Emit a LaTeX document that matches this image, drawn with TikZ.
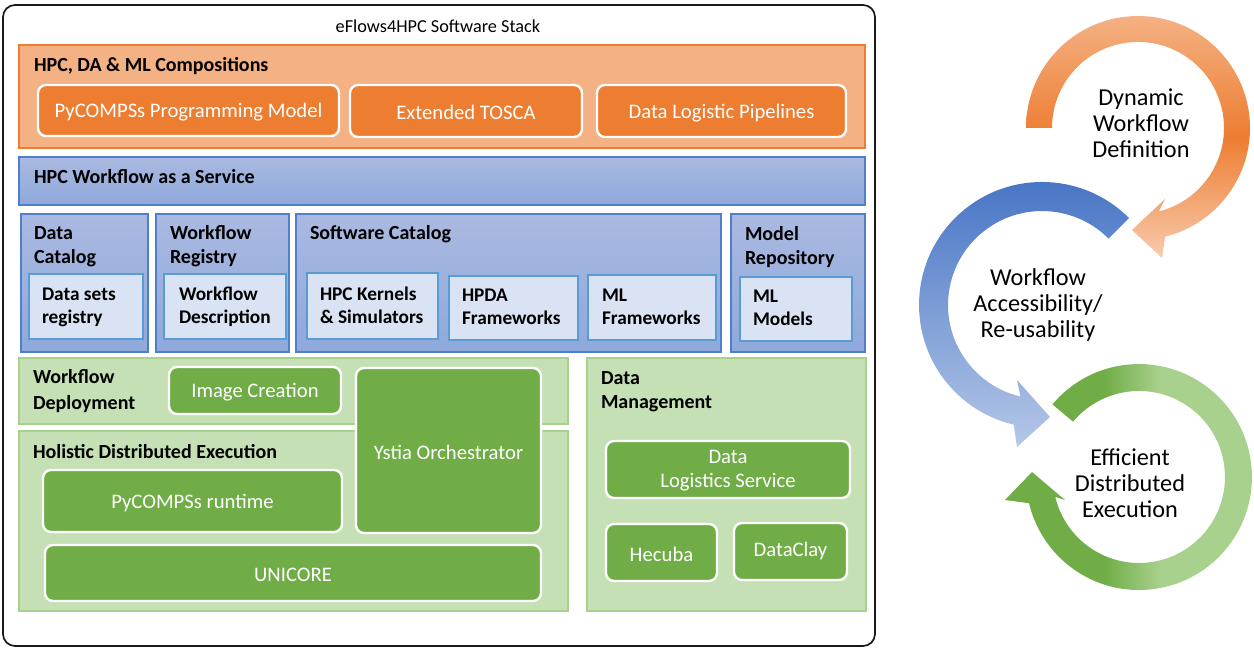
\documentclass[tikz,border=0pt]{standalone}
\usepackage{fontspec}
\setmainfont{Carlito}
\usetikzlibrary{fit}

\definecolor{orfill}{HTML}{F4B183}
\definecolor{ordark}{HTML}{ED7D31}
\definecolor{orlight}{HTML}{F8CBAD}
\definecolor{bltop}{HTML}{AAB9E1}
\definecolor{blbot}{HTML}{8EA9DB}
\definecolor{blline}{HTML}{4F7FCC}
\definecolor{lbfill}{HTML}{DAE3F3}
\definecolor{lbline}{HTML}{5B9BD5}
\definecolor{grfill}{HTML}{C5E0B4}
\definecolor{grline}{HTML}{A9D18E}
\definecolor{grdark}{HTML}{70AD47}
\definecolor{grlight}{HTML}{A9D18E}
\definecolor{bldark}{HTML}{4472C4}
\definecolor{bllight}{HTML}{B4C7E7}

\pgfdeclarehorizontalshading{greenring}{100bp}{color(0bp)=(grdark); color(44bp)=(grdark); color(55bp)=(grlight); color(100bp)=(grlight)}

\newcommand\ttlfont{\fontsize{15}{18}\selectfont\bfseries}
\newcommand\lbfont{\fontsize{14.5}{17.25}\selectfont\bfseries}
\newcommand\boxfont{\fontsize{15.5}{18}\selectfont}
\newcommand\cycfont{\fontsize{18.2}{19.5}\selectfont}

\tikzset{
  every node/.style={inner sep=0pt, outer sep=0pt},
  stackbox/.style={draw=black!90, line width=1.3pt, rounded corners=9pt},
  orpanel/.style={draw=ordark, line width=1.1pt, fill=orfill},
  orbox/.style={draw=white, line width=1.8pt, fill=ordark, rounded corners=6pt},
  blpanel/.style={draw=blline, line width=1.3pt, top color=bltop, bottom color=blbot},
  lbbox/.style={draw=lbline, line width=1.3pt, fill=lbfill},
  grpanel/.style={draw=grline, line width=1.1pt, fill=grfill},
  grbox/.style={draw=white, line width=1.8pt, fill=grdark, rounded corners=6pt},
  wtxt/.style={text=white, font=\boxfont, align=center, yshift=-1.2pt},
  ttl/.style={anchor=base west, align=left, font=\ttlfont},
  lbtxt/.style={anchor=base west, align=left, font=\lbfont},
  cyc/.style={anchor=base, align=center, font=\cycfont}
}

\begin{document}
\begin{tikzpicture}[x=0.75pt, y=-0.75pt]
  \useasboundingbox (0,0) rectangle (1254,650);

  \node[stackbox, fit={(3,5) (875,646)}] (stack) {};
  \node[anchor=base, font=\fontsize{13.7}{16}\selectfont] (stack-t) at (438,32) {eFlows4HPC Software Stack};

  \node[orpanel, fit={(19,45) (865,148)}] (comp) {};
  \node[ttl] (comp-t) at (34,71) {HPC, DA \& ML Compositions};
  \node[orbox, fit={(38,85) (339,136)}] (pcm) {};
  \node[wtxt] (pcm-t) at (pcm) {PyCOMPSs Programming Model};
  \node[orbox, fit={(350,85) (582,137)}] (tosca) {};
  \node[wtxt] (tosca-t) at (tosca) {Extended TOSCA};
  \node[orbox, fit={(597,85) (846,137)}] (dlp) {};
  \node[wtxt] (dlp-t) at (dlp) {Data Logistic Pipelines};

  \node[blpanel, fit={(19,157) (865,205)}] (wfaas) {};
  \node[ttl] (wfaas-t) at (34,183) {HPC Workflow as a Service};

  \node[blpanel, fit={(21,214) (148,352)}] (dcat) {};
  \node[ttl] (dcat-t) at (34,263) {Data\\Catalog};
  \node[lbbox, fit={(29,274) (143,339)}] (dsr) {};
  \node[lbtxt] (dsr-t) at (42,323) {Data sets\\registry};

  \node[blpanel, fit={(156,214) (289,352)}] (wreg) {};
  \node[ttl] (wreg-t) at (170,263) {Workflow\\Registry};
  \node[lbbox, fit={(164,274) (286,339)}] (wdesc) {};
  \node[lbtxt] (wdesc-t) at (179,323) {Workflow\\Description};

  \node[blpanel, fit={(296,214) (721,352)}] (scat) {};
  \node[ttl] (scat-t) at (310,239) {Software Catalog};
  \node[lbbox, fit={(307,273) (438,339)}] (hpck) {};
  \node[lbtxt] (hpck-t) at (320,323) {HPC Kernels\\\& Simulators};
  \node[lbbox, fit={(449,276) (578,340)}] (hpda) {};
  \node[lbtxt] (hpda-t) at (462,324) {HPDA\\Frameworks};
  \node[lbbox, fit={(588,275) (716,340)}] (mlfw) {};
  \node[lbtxt] (mlfw-t) at (602,324) {ML\\Frameworks};

  \node[blpanel, fit={(731,214) (865,352)}] (mrep) {};
  \node[ttl] (mrep-t) at (745,264) {Model\\Repository};
  \node[lbbox, fit={(740,277) (852,341)}] (mlm) {};
  \node[lbtxt] (mlm-t) at (753,325) {ML\\Models};

  \node[grpanel, fit={(19,358) (568,424)}] (wdep) {};
  \node[ttl, font=\fontsize{15}{19.5}\selectfont\bfseries] (wdep-t) at (33,409) {Workflow\\Deployment};
  \node[grpanel, fit={(19,431) (568,611)}] (hde) {};
  \node[ttl] (hde-t) at (33,458) {Holistic Distributed Execution};
  \node[grbox, fit={(169,367) (341,414)}] (imgc) {};
  \node[wtxt] (imgc-t) at (imgc) {Image Creation};
  \node[grbox, fit={(356,368) (541,533)}] (ystia) {};
  \node[wtxt] (ystia-t) at (ystia) {Ystia Orchestrator};
  \node[grbox, fit={(43,470) (342,532)}] (pyrt) {};
  \node[wtxt] (pyrt-t) at (pyrt) {PyCOMPSs runtime};
  \node[grbox, fit={(45,545) (541,601)}] (unic) {};
  \node[wtxt] (unic-t) at (unic) {UNICORE};

  \node[grpanel, fit={(587,358) (866,611)}] (dman) {};
  \node[ttl] (dman-t) at (601,408) {Data\\Management};
  \node[grbox, fit={(606,441) (850,498)}] (dls) {};
  \node[wtxt] (dls-t) at (dls) {Data\\Logistics Service};
  \node[grbox, fit={(606,524) (717,581)}] (hecuba) {};
  \node[wtxt] (hecuba-t) at (hecuba) {Hecuba};
  \node[grbox, fit={(734,523) (847,580)}] (dclay) {};
  \node[wtxt] (dclay-t) at ([yshift=1.5pt]dclay.center) {DataClay};

  \shade[top color=orfill, bottom color=orlight, middle color=ordark]
    (1026,128) arc[start angle=180, end angle=436, radius=112]
    -- (1162,258) -- (1132,230) -- (1165,199) -- (1158.8,211.4)
    arc[start angle=436, end angle=180, radius=86] -- cycle;
  \shade[top color=bldark, bottom color=bllight]
    (1129,218) arc[start angle=-45, end angle=-256.7, radius=123]
    -- (1017,447) -- (1050,417) -- (1017,380) -- (1020.4,396.5)
    arc[start angle=-256.7, end angle=-45, radius=94] -- cycle;
  \shade[shading=greenring]
    (1052.4,404.4) arc[start angle=-140, end angle=166.6, radius=113]
    -- (1005,500) -- (1032,472) -- (1065,500) -- (1055.3,496.9)
    arc[start angle=166.6, end angle=-140, radius=86] -- cycle;

  \node[cyc] (dwd) at (1141,157) {Dynamic\\Workflow\\Definition};
  \node[cyc] (war) at (1038,337) {Workflow\\Accessibility/\\Re-usability};
  \node[cyc] (ede) at (1130,517) {Efficient\\Distributed\\Execution};
\end{tikzpicture}
\end{document}
